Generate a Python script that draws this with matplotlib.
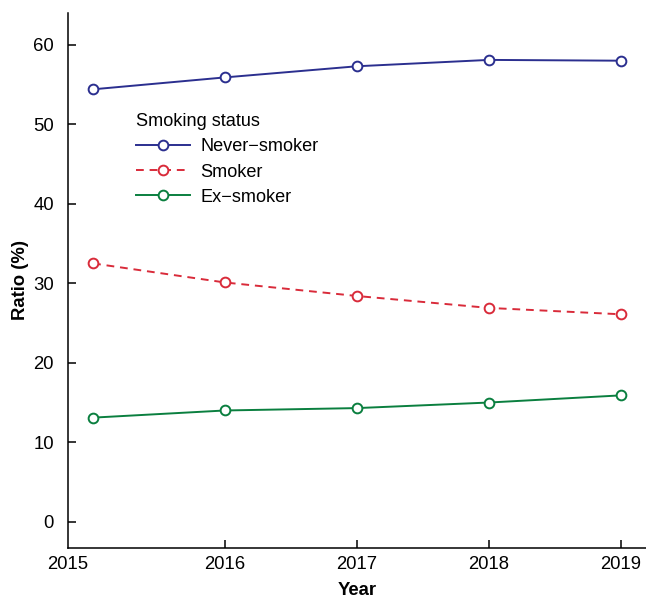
import matplotlib
matplotlib.use("Agg")
import matplotlib.pyplot as plt

plt.rcParams['font.family'] = ['Liberation Sans', 'DejaVu Sans']

# Smoking status by year (%)
years = [2015, 2016, 2017, 2018, 2019]
never_smoker = [54.4, 55.9, 57.3, 58.1, 58.0]
smoker = [32.5, 30.1, 28.4, 26.9, 26.1]
ex_smoker = [13.1, 14.0, 14.3, 15.0, 15.9]
tick_labels = ['2015', '2016', '2017', '2018', '2019']

fig = plt.figure(figsize=(6.46, 6.01), dpi=100)
ax = fig.add_axes([68 / 646, 53 / 601, 578 / 646, 535 / 601])

mk = dict(marker='o', markersize=7, markerfacecolor='white', markeredgewidth=1.4, linewidth=1.4)
ax.plot(years, never_smoker, color='#2b2f8f', label='Never\u2212smoker', **mk)
ax.plot(years, smoker, color='#d92b3a', linestyle=(0, (4, 3)), label='Smoker', **mk)
ax.plot(years, ex_smoker, color='#0a7f3f', label='Ex\u2212smoker', **mk)

x0 = 2014.81
ax.set_xlim(x0, 2019.19)
ax.set_ylim(-3.3, 64.0)
ax.set_xticks([x0, 2016, 2017, 2018, 2019])
ax.set_xticklabels(tick_labels)
ax.set_yticks([0, 10, 20, 30, 40, 50, 60])

ax.spines['top'].set_visible(False)
ax.spines['right'].set_visible(False)
ax.spines['left'].set_linewidth(1.1)
ax.spines['bottom'].set_linewidth(1.1)
ax.tick_params(direction='in', length=6, width=1.1, labelsize=13.3)
ax.tick_params(axis='x', pad=6)
ax.tick_params(axis='y', pad=10)
ax.xaxis.get_major_ticks()[0].tick1line.set_visible(False)

ax.set_xlabel('Year', fontsize=13.3, fontweight='bold', labelpad=6)
ax.set_ylabel('Ratio (%)', fontsize=13.3, fontweight='bold', labelpad=3)

leg = ax.legend(title='Smoking status', loc='upper left', bbox_to_anchor=(0.092, 0.84),
                frameon=False, fontsize=13.1, title_fontsize=13.1, handlelength=3.0,
                handletextpad=0.55, labelspacing=0.45, borderpad=0.3)
leg._legend_box.align = 'left'

fig.savefig('out.png', dpi=100)
